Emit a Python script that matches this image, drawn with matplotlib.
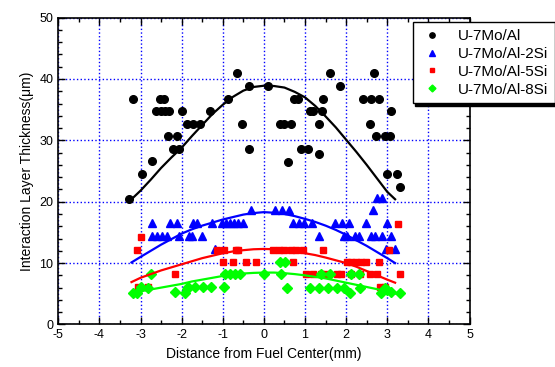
"""
Interaction layer thickness vs distance from fuel center
"""
import numpy as np
import matplotlib
matplotlib.use('Agg')
import matplotlib.pyplot as plt
from matplotlib.ticker import MultipleLocator

plt.rcParams['font.family'] = ['Liberation Sans', 'DejaVu Sans']
plt.rcParams['axes.unicode_minus'] = False

labels = ['U-7Mo/Al', 'U-7Mo/Al-2Si', 'U-7Mo/Al-5Si', 'U-7Mo/Al-8Si']

# measured points (mm, um)
al_x = [-3.27, -3.18, -2.97, -2.71, -2.63, -2.53, -2.50, -2.43, -2.40, -2.33,
        -2.30, -2.21, -2.11, -2.06, -1.98, -1.88, -1.72, -1.56, -1.31, -0.87,
        -0.65, -0.54, -0.36, -0.36, 0.10, 0.39, 0.49, 0.58, 0.67, 0.74,
        0.83, 0.90, 1.08, 1.12, 1.20, 1.35, 1.35, 1.42, 1.43, 1.61,
        1.84, 2.41, 2.57, 2.60, 2.68, 2.73, 2.81, 2.94, 2.99, 3.07,
        3.09, 3.24, 3.32]
al_y = [20.4, 36.75, 24.5, 26.6, 34.75, 36.75, 34.75, 36.75, 34.75, 30.7,
        34.75, 28.55, 30.7, 28.55, 34.75, 32.7, 32.7, 32.7, 34.75, 36.75,
        40.9, 32.7, 38.8, 28.6, 38.8, 32.7, 32.7, 26.5, 32.7, 36.75,
        36.75, 28.6, 28.6, 34.75, 34.75, 32.7, 27.8, 34.75, 36.75, 40.9,
        38.8, 36.75, 32.7, 36.75, 40.9, 30.7, 36.75, 30.7, 24.5, 30.7,
        34.75, 24.5, 22.4]

si2_x = [-2.72, -2.29, -2.11, -1.72, -1.62, -1.26, -1.03, -0.92, -0.83, -0.73,
         -0.64, -0.50, 0.71, 0.85, 0.97, 1.16, 1.73, 1.90, 2.07, 2.49, 3.00,
         -2.73, -2.60, -2.48, -2.36, -2.07, -1.83, -1.76, -1.51, 1.35, 1.94,
         2.01, 2.22, 2.32, 2.61, 2.70, 2.86, 3.10,
         -0.32, 0.27, 0.43, 0.60, 2.66, 2.76, 2.86, -1.18, 2.98, 3.19]
si2_y = [16.5, 16.5, 16.5, 16.5, 16.5, 16.5, 16.5, 16.5, 16.5, 16.5,
         16.5, 16.5, 16.5, 16.5, 16.5, 16.5, 16.5, 16.5, 16.5, 16.5, 16.5,
         14.45, 14.45, 14.45, 14.45, 14.45, 14.45, 14.45, 14.45, 14.45, 14.45,
         14.45, 14.45, 14.45, 14.45, 14.45, 14.45, 14.45,
         18.6, 18.6, 18.6, 18.6, 18.6, 20.55, 20.55, 12.3, 12.3, 12.3]

si5_x = [-3.08, -2.99, -3.06, -2.82, -2.17,
         -1.15, -0.98, -0.68, -0.64, 0.23, 0.37, 0.50, 0.67, 0.78, 0.96, 1.43, 3.05,
         -0.99, -0.76, -0.44, -0.19, 0.71, 2.01, 2.12, 2.25, 2.35, 2.48, 2.80,
         1.02, 1.20, 1.40, 1.52, 1.78, 1.88, 2.13, 2.33, 2.58, 2.74, 3.31,
         3.27, 2.82, 2.95]
si5_y = [12.2, 14.3, 6.1, 6.1, 8.15,
         12.2, 12.2, 12.2, 12.2, 12.2, 12.2, 12.2, 12.2, 12.2, 12.2, 12.2, 12.2,
         10.2, 10.2, 10.2, 10.2, 10.2, 10.2, 10.2, 10.2, 10.2, 10.2, 10.2,
         8.2, 8.2, 8.2, 8.2, 8.2, 8.2, 8.2, 8.2, 8.2, 8.2, 8.2,
         16.3, 6.1, 6.1]

si8_x = [-3.18, -3.09, -2.98, -2.82, -2.75, -2.17, -1.92, -1.87, -1.84, -1.68,
         -1.48, -1.28, -0.96,
         -0.95, -0.83, -0.71, -0.58, 0.0, 0.42, 1.40, 1.60, 2.13, 2.32,
         0.38, 0.51,
         0.55, 1.11, 1.33, 1.56, 1.77, 1.94, 2.33,
         2.09, 2.85, 2.94, 3.00, 3.08, 3.30]
si8_y = [5.2, 5.2, 6.1, 6.0, 8.2, 5.3, 5.2, 5.7, 6.1, 6.1,
         6.1, 6.1, 6.1,
         8.15, 8.15, 8.15, 8.15, 8.15, 8.15, 8.15, 8.15, 8.15, 8.15,
         10.2, 10.2,
         6.0, 6.0, 6.0, 6.0, 6.0, 6.0, 6.0,
         5.2, 5.2, 6.0, 5.6, 5.3, 5.2]

# fitted curves
fit_x = [-3.22, -3.0, -2.75, -2.5, -2.25, -2.0, -1.75, -1.5, -1.25, -1.0,
         -0.75, -0.5, -0.25, 0.0, 0.25, 0.5, 0.75, 1.0, 1.25, 1.5,
         1.75, 2.0, 2.25, 2.5, 2.75, 3.0, 3.19]
fit_al = [20.4, 21.8, 23.6, 25.5, 27.2, 28.8, 30.7, 32.5, 34.3, 35.8,
          37.1, 38.1, 38.7, 38.9, 38.85, 38.6, 37.9, 37.0, 35.6, 33.9,
          32.1, 30.1, 28.1, 26.0, 23.8, 21.6, 20.4]
fit_si2 = [10.1, 11.0, 12.0, 13.0, 13.9, 14.8, 15.5, 16.1, 16.6, 17.1,
           17.5, 17.9, 18.15, 18.3, 18.2, 18.0, 17.65, 17.2, 16.7, 16.1,
           15.4, 14.6, 13.7, 12.8, 11.8, 10.8, 10.0]
fit_si5 = [6.9, 7.6, 8.2, 8.8, 9.3, 9.8, 10.3, 10.8, 11.2, 11.6,
           11.9, 12.1, 12.25, 12.3, 12.25, 12.1, 11.9, 11.6, 11.3, 10.9,
           10.45, 10.0, 9.4, 8.7, 8.0, 7.3, 6.8]
fit_si8 = [5.05, 5.4, 5.7, 6.0, 6.3, 6.6, 7.0, 7.3, 7.6, 7.9,
           8.1, 8.3, 8.4, 8.45, 8.45, 8.35, 8.2, 8.0, 7.75, 7.5,
           7.15, 6.8, 6.45, 6.1, 5.75, 5.4, 5.05]

fig = plt.figure(figsize=(5.55, 3.67), dpi=100)
ax = fig.add_axes([0.105, 0.116, 0.741, 0.836])

ax.grid(True, color='blue', linestyle=':', linewidth=1.0)
ax.set_axisbelow(True)

ax.plot(al_x, al_y, 'o', color='black', markersize=5.5, label=labels[0])
ax.plot(si2_x, si2_y, '^', color='blue', markersize=6, label=labels[1])
ax.plot(si5_x, si5_y, 's', color='red', markersize=5, label=labels[2])
ax.plot(si8_x, si8_y, 'D', color='#00ff00', markersize=5, label=labels[3])

ax.plot(fit_x, fit_al, '-', color='black', linewidth=1.6)
ax.plot(fit_x, fit_si2, '-', color='blue', linewidth=1.6)
ax.plot(fit_x, fit_si5, '-', color='red', linewidth=1.6)
ax.plot(fit_x, fit_si8, '-', color='#00ff00', linewidth=1.6)

ax.set_xlim(-5, 5)
ax.set_ylim(0, 50)
ax.xaxis.set_major_locator(MultipleLocator(1))
ax.xaxis.set_minor_locator(MultipleLocator(0.5))
ax.yaxis.set_major_locator(MultipleLocator(10))
ax.yaxis.set_minor_locator(MultipleLocator(2))
ax.tick_params(which='both', direction='in', top=True, right=True, labelsize=9)
ax.tick_params(which='major', length=5, width=1)
ax.tick_params(which='minor', length=3, width=1)
for s in ax.spines.values():
    s.set_linewidth(1.2)

ax.set_xlabel('Distance from Fuel Center(mm)', fontsize=10)
ax.set_ylabel('Interaction Layer Thickness(\u03bcm)', fontsize=10)

leg = ax.legend(loc='upper left', bbox_to_anchor=(0.843, 1.01), fontsize=11,
                frameon=True, fancybox=False, framealpha=1, edgecolor='black',
                shadow={'color': 'black', 'alpha': 1}, markerscale=0.7,
                handlelength=1.6, handletextpad=0.9, borderpad=0.45,
                labelspacing=0.25)
leg.get_frame().set_linewidth(1.0)
leg.set_clip_on(False)

fig.savefig('out.png', dpi=100)
